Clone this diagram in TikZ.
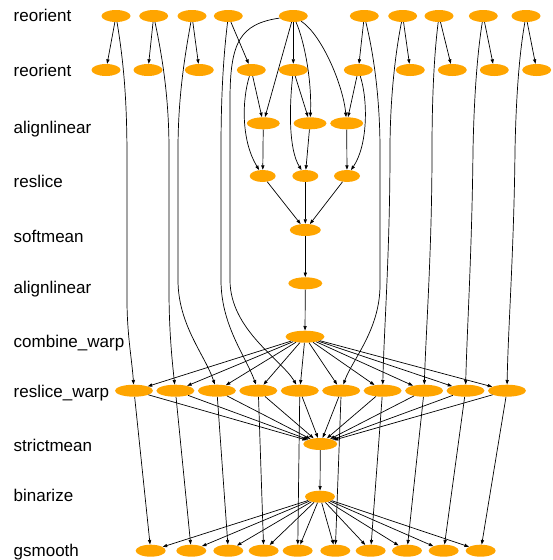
\documentclass[tikz,border=0pt]{standalone}
\usepackage{fontspec}
\setmainfont{Liberation Sans}
\usetikzlibrary{arrows.meta,shapes.geometric}
\definecolor{joborange}{HTML}{FFA500}
\tikzset{
  job/.style={ellipse, fill=joborange, draw=none, inner sep=0pt, minimum height=12pt},
  lab/.style={anchor=base west, inner sep=0pt, font=\fontsize{17}{20}\selectfont},
  edge/.style={draw=black, line width=0.7pt, -{Triangle[length=4.5pt,width=3.2pt]}}
}
\begin{document}
\begin{tikzpicture}[x=1pt,y=-1pt]
\useasboundingbox (0,0) rectangle (553,560);

% stage labels
\node[lab] (l0)  at (13.5,21.5)  {reorient};
\node[lab] (l1)  at (13.5,76.5)  {reorient};
\node[lab] (l2)  at (13.5,133.5) {alignlinear};
\node[lab] (l3)  at (13.5,187.5) {reslice};
\node[lab] (l4)  at (13.5,242.5) {softmean};
\node[lab] (l5)  at (13.5,293.5) {alignlinear};
\node[lab] (l6)  at (13.5,347.5) {combine\_warp};
\node[lab] (l7)  at (13.5,397.3) {reslice\_warp};
\node[lab] (l8)  at (13.5,451.5) {strictmean};
\node[lab] (l9)  at (13.5,501.5) {binarize};
\node[lab] (l10) at (13.5,556.3) {gsmooth};

% job nodes
\foreach \x [count=\i] in {116,153.7,192,228.3,293.3,364.3,402.7,439,483.3,526}
  \node[job, minimum width=29pt] (t\i) at (\x,16) {};
\foreach \x [count=\i] in {106,148,199.3,251.3,293.3,358.3,410.3,452.3,494.3,536.7}
  \node[job, minimum width=29pt] (r\i) at (\x,70) {};
\foreach \x [count=\i] in {263.3,310,346.7}
  \node[job, minimum width=33pt] (a\i) at (\x,123.3) {};
\foreach \x [count=\i] in {262.7,305.3,347}
  \node[job, minimum width=26pt] (s\i) at (\x,176) {};
\node[job, minimum width=31pt] (sf) at (305.3,230) {};
\node[job, minimum width=34pt] (al) at (305.3,283.3) {};
\node[job, minimum width=39pt] (cw) at (305,336.7) {};
\foreach \x [count=\i] in {134,175.4,216.9,258.3,299.8,341.2,382.6,424.1,465.5,507}
  \node[job, minimum width=38pt] (w\i) at (\x,390.7) {};
\node[job, minimum width=34pt] (sm) at (320.3,444) {};
\node[job, minimum width=30pt] (bz) at (320,496.7) {};
\foreach \x [count=\i] in {150.7,191.3,228.3,263.7,297.7,335.3,370.7,407,443.7,480.7}
  \node[job, minimum width=30pt] (g\i) at (\x,550.7) {};

% reorient -> reorient
\foreach \i in {1,...,10}
  \draw[edge] (t\i) -- (r\i);

% reorient -> reslice_warp (long edges)
\draw[edge] (t1) .. controls (125,70) and (127,110) .. (127,160) -- (127,300)
  .. controls (127,335) and (132,360) .. (w1);
\draw[edge] (t2) .. controls (163,60) and (169,100) .. (169,150) -- (169,290)
  .. controls (169,330) and (172,360) .. (w2);
\draw[edge] (t3) .. controls (184,60) and (178,100) .. (178,150) -- (178,280)
  .. controls (178,325) and (205,355) .. (w3);
\draw[edge] (t4) .. controls (223,60) and (221,100) .. (221,150) -- (221,280)
  .. controls (221,325) and (245,355) .. (w4);
\draw[edge] (t5) .. controls (240,24) and (230,42) .. (230,100) -- (230,280)
  .. controls (230,330) and (282,360) .. (w5);
\draw[edge] (t6) .. controls (374,55) and (380,100) .. (380,150) -- (380,285)
  .. controls (380,330) and (352,360) .. (w6);
\draw[edge] (t7) .. controls (395,55) and (390,100) .. (390,150)
  .. controls (390,250) and (384,330) .. (w7);
\draw[edge] (t8) .. controls (434,55) and (432,100) .. (432,150)
  .. controls (432,250) and (426,330) .. (w8);
\draw[edge] (t9) .. controls (477,55) and (474,100) .. (473,150)
  .. controls (472,250) and (467,330) .. (w9);
\draw[edge] (t10) .. controls (519,55) and (516,100) .. (515,150)
  .. controls (514,250) and (508,330) .. (w10);

% reference image -> alignlinear
\draw[edge] (t5) -- (a1);
\draw[edge] (t5) .. controls (304,40) and (312,80) .. (a2);
\draw[edge] (t5) .. controls (322,35) and (343,85) .. (a3);

% moving images -> alignlinear and reslice
\draw[edge] (r4) -- (a1);
\draw[edge] (r5) -- (a2);
\draw[edge] (r6) -- (a3);
\draw[edge] (r4) .. controls (242,100) and (241,140) .. (s1);
\draw[edge] (r5) .. controls (289,110) and (289,150) .. (s2);
\draw[edge] (r6) .. controls (368,100) and (368,145) .. (s3);
\foreach \i in {1,2,3} {
  \draw[edge] (a\i) -- (s\i);
  \draw[edge] (s\i) -- (sf);
}

% template chain
\draw[edge] (sf) -- (al);
\draw[edge] (al) -- (cw);
\foreach \i in {1,...,10} {
  \draw[edge] (cw) -- (w\i);
  \draw[edge] (w\i) -- (sm);
  \draw[edge] (w\i) -- (g\i);
  \draw[edge] (bz) -- (g\i);
}
\draw[edge] (sm) -- (bz);
\end{tikzpicture}
\end{document}
